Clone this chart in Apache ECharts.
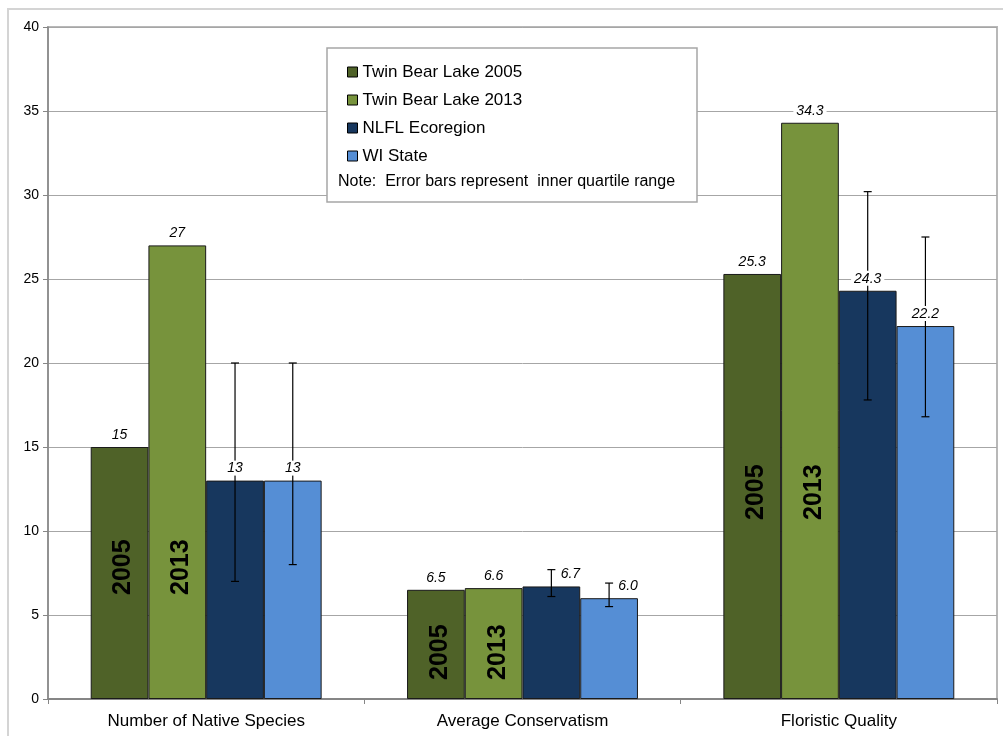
<!DOCTYPE html>
<html>
<head>
<meta charset="utf-8">
<script src="https://cdn.jsdelivr.net/npm/echarts@6/dist/echarts.min.js"></script>
<style>
  html, body { margin: 0; padding: 0; background: #fff; }
  #chart { width: 1003px; height: 736px; }
</style>
</head>
<body>
<div id="chart"></div>
<script>
// data
const categories = ['Number of Native Species', 'Average Conservatism', 'Floristic Quality']
const seriesNames = ['Twin Bear Lake 2005', 'Twin Bear Lake 2013', 'NLFL Ecoregion', 'WI State']
const lake2005 = [15, 6.5, 25.3]
const lake2013 = [27, 6.6, 34.3]
const ecoregion = [13, 6.7, 24.3]
const wiState = [13, 6.0, 22.2]
// inner quartile range (low, high) for the two reference series
const ecoregionLow = [7, 6.1, 17.8]
const ecoregionHigh = [20, 7.7, 30.2]
const wiStateLow = [8, 5.5, 16.8]
const wiStateHigh = [20, 6.9, 27.5]
const yearLabels = ['2005', '2013']

const colors = ['#4F6228', '#77933C', '#17375E', '#558ED5']
const values = [lake2005, lake2013, ecoregion, wiState]
const catGap = 0.27

// lift of the rotated year text above the axis, in px (placed by hand in the original)
const yearLift = [[104, 19, 179], [104, 19, 179]]
// sideways nudge of value labels that would sit on an error bar (px)
function labelNudge (cat, s) {
  return (cat === 1 && s >= 2) ? 19 : 0
}

function barCenter (api, cat, s) {
  const c = api.coord([cat, 0])
  const catW = api.size([1, 0])[0]
  const barW = catW * (1 - catGap) / 4
  return { x: c[0] + (s - 1.5) * barW, y0: c[1], w: barW }
}

function fmt (cat, v) {
  return cat === 0 ? String(Math.round(v)) : v.toFixed(1)
}

const barSeries = values.map((vals, s) => ({
  name: seriesNames[s],
  type: 'bar',
  barGap: 0,
  barCategoryGap: (catGap * 100) + '%',
  z: 2,
  itemStyle: { color: colors[s], borderColor: '#1a1a1a', borderWidth: 1 },
  data: vals.map((v, i) => {
    const item = { value: v }
    if (s < 2) {
      item.label = {
        show: true,
        position: 'insideBottom',
        distance: yearLift[s][i],
        rotate: 90,
        align: 'left',
        verticalAlign: 'middle',
        offset: [0, 4],
        formatter: yearLabels[s],
        color: '#000',
        fontSize: 25,
        fontWeight: 'bold',
        fontFamily: 'Liberation Sans, Arial, sans-serif'
      }
    }
    return item
  })
}))

const errData = []
categories.forEach((c, i) => {
  errData.push([i, 2, ecoregionLow[i], ecoregionHigh[i]])
  errData.push([i, 3, wiStateLow[i], wiStateHigh[i]])
})

const errorSeries = {
  type: 'custom',
  name: 'errors',
  z: 3,
  silent: true,
  data: errData,
  encode: { x: 0, y: [2, 3] },
  renderItem: function (params, api) {
    const cat = api.value(0)
    const s = api.value(1)
    const b = barCenter(api, cat, s)
    const lo = api.coord([cat, api.value(2)])[1]
    const hi = api.coord([cat, api.value(3)])[1]
    const st = { stroke: '#000', lineWidth: 1.2 }
    return {
      type: 'group',
      children: [
        { type: 'line', shape: { x1: b.x, y1: lo, x2: b.x, y2: hi }, style: st },
        { type: 'line', shape: { x1: b.x - 4, y1: lo, x2: b.x + 4, y2: lo }, style: st },
        { type: 'line', shape: { x1: b.x - 4, y1: hi, x2: b.x + 4, y2: hi }, style: st }
      ]
    }
  }
}

const valData = []
categories.forEach((c, i) => {
  values.forEach((vals, s) => valData.push([i, s, vals[i]]))
})

const valueSeries = {
  type: 'custom',
  name: 'values',
  z: 4,
  silent: true,
  data: valData,
  encode: { x: 0, y: 2 },
  renderItem: function (params, api) {
    const cat = api.value(0)
    const s = api.value(1)
    const v = api.value(2)
    const b = barCenter(api, cat, s)
    const top = api.coord([cat, v])[1]
    return {
      type: 'text',
      x: b.x + labelNudge(cat, s),
      y: top - 5,
      style: {
        text: fmt(cat, v),
        align: 'center',
        verticalAlign: 'bottom',
        fill: '#000',
        font: 'italic 14px "Liberation Sans", Arial, sans-serif',
        backgroundColor: '#fff',
        padding: [1, 3, 0, 3]
      }
    }
  }
}

const chart = echarts.init(document.getElementById('chart'))
chart.setOption({
  animation: false,
  color: colors,
  textStyle: { fontFamily: 'Liberation Sans, Arial, sans-serif' },
  grid: { left: 48, right: 6, top: 27, bottom: 37, show: true, borderColor: '#b8b8b8', borderWidth: 2 },
  graphic: [
    {
      type: 'rect',
      shape: { x: 8, y: 9, width: 1010, height: 750 },
      style: { fill: 'none', stroke: '#d4d4d4', lineWidth: 2 },
      z: -10
    },
    {
      type: 'rect',
      shape: { x: 327, y: 48, width: 370, height: 154 },
      style: { fill: '#fff', stroke: '#a6a6a6', lineWidth: 1.5 },
      z: 20
    },
    {
      type: 'text',
      x: 338,
      y: 174,
      z: 21,
      style: {
        text: 'Note:  Error bars represent  inner quartile range',
        fill: '#000',
        font: '16px "Liberation Sans", Arial, sans-serif'
      }
    }
  ],
  legend: {
    orient: 'vertical',
    left: 342,
    top: 57,
    itemWidth: 10,
    itemHeight: 10,
    itemGap: 8,
    z: 22,
    icon: 'rect',
    data: seriesNames.map(n => ({ name: n, itemStyle: { borderColor: '#000', borderWidth: 1 } })),
    textStyle: { fontSize: 17, lineHeight: 20, color: '#000' }
  },
  xAxis: {
    type: 'category',
    data: categories,
    axisLine: { lineStyle: { color: '#868686', width: 2 } },
    axisTick: { show: true, length: 5, lineStyle: { color: '#868686' } },
    axisLabel: { color: '#000', fontSize: 17, margin: 14 }
  },
  yAxis: {
    type: 'value',
    min: 0,
    max: 40,
    interval: 5,
    axisLine: { show: true, lineStyle: { color: '#868686', width: 1.5 } },
    axisTick: { show: true, length: 5, lineStyle: { color: '#868686' } },
    axisLabel: { color: '#000', fontSize: 14, margin: 9 },
    splitLine: { lineStyle: { color: '#a6a6a6', width: 1 } }
  },
  series: [...barSeries, errorSeries, valueSeries]
})
</script>
</body>
</html>
